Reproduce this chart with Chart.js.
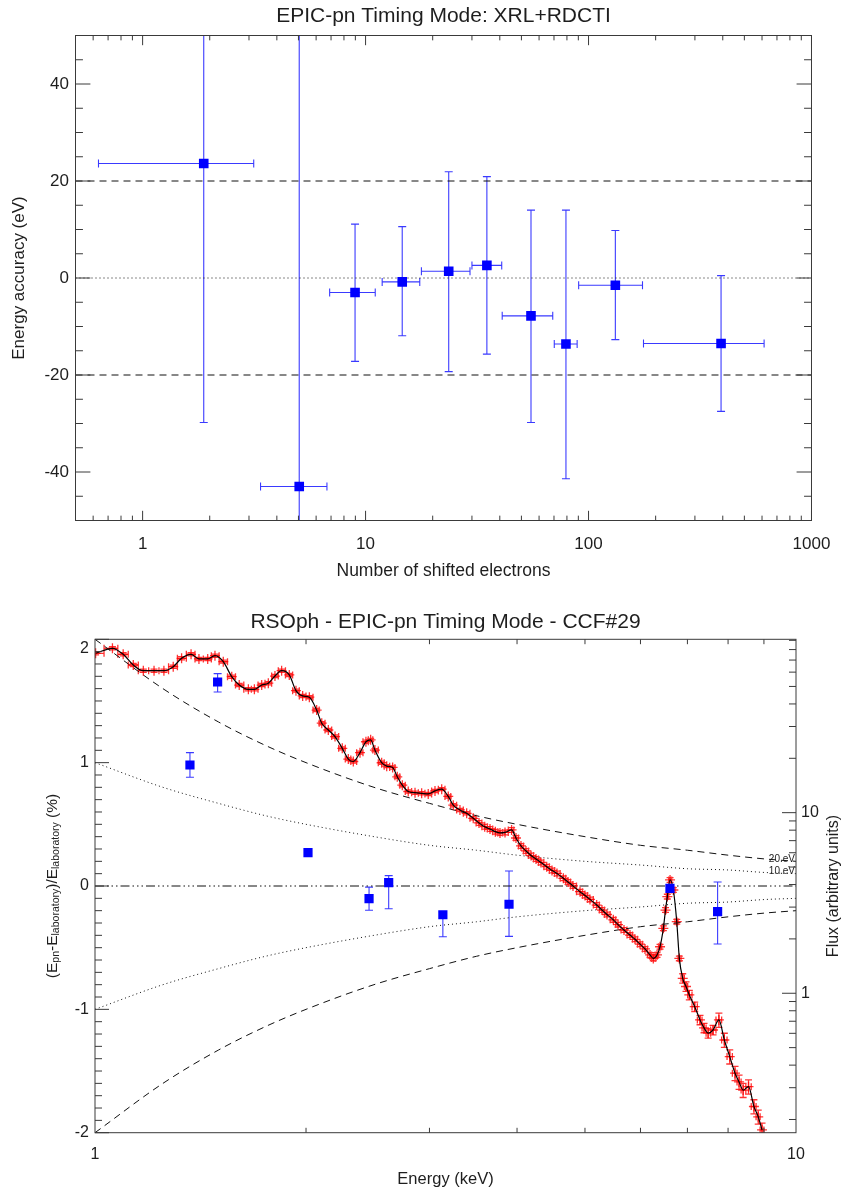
<!DOCTYPE html>
<html>
<head>
<meta charset="utf-8">
<title>EPIC-pn Timing Mode energy scale</title>
<script src="https://cdn.jsdelivr.net/npm/chart.js@4.4.1/dist/chart.umd.min.js"></script>
<style>
  html, body { margin: 0; padding: 0; background: #fff; }
  #wrap { position: relative; width: 844px; height: 1195px; }
  canvas { position: absolute; left: 0; }
  #topChart { top: 0; }
  #bottomChart { top: 595px; }
</style>
</head>
<body>
<div id="wrap">
  <canvas id="topChart" width="844" height="595"></canvas>
  <canvas id="bottomChart" width="844" height="600"></canvas>
</div>
<script>
// ==================== DATA: XRL+RDCTI (top panel) ====================
const electrons     = [1.88, 5.04, 8.97, 14.6, 23.6, 35.0, 55.2, 79.2, 131.9, 393];
const electronsLow  = [0.634, 3.38, 6.90, 11.87, 17.8, 30.0, 41.0, 70.2, 90.3, 176.4];
const electronsHigh = [3.15, 6.71, 11.05, 17.5, 29.4, 40.8, 69.1, 88.9, 174.6, 613];
const accuracy      = [23.6, -43.0, -3.0, -0.8, 1.4, 2.6, -7.8, -13.6, -1.5, -13.5];
const accuracyLow   = [-29.8, -138, -17.2, -11.9, -19.3, -15.7, -29.8, -41.4, -12.7, -27.5];
const accuracyHigh  = [77, 52, 11.1, 10.6, 21.9, 20.9, 14.0, 14.0, 9.8, 0.5];
const electronRange = [0.5, 1000];
const electronTicks = [1, 10, 100, 1000];
const accuracyTicks = [-40, -20, 0, 20, 40];
const accuracyLimit = 20;

// ==================== DATA: RS Oph (bottom panel) ====================
const lineEnergy    = [1.366, 1.496, 2.013, 2.46, 2.624, 3.135, 3.896, 6.61, 7.73];
const lineShift     = [0.981, 1.654, 0.270, -0.103, 0.027, -0.233, -0.148, -0.019, -0.208];
const lineShiftLow  = [0.882, 1.573, 0.245, -0.197, -0.184, -0.411, -0.408, -0.040, -0.470];
const lineShiftHigh = [1.081, 1.722, 0.295, -0.009, 0.084, -0.210, 0.122, 0.000, 0.032];

const curveEnergy = [1, 1.25, 1.5, 1.75, 2, 2.5, 3, 3.5, 4, 5, 6, 7, 8, 9, 10];
const shift20eV   = [2.00, 1.60, 1.33, 1.14, 1.00, 0.80, 0.67, 0.57, 0.50, 0.40, 0.33, 0.29, 0.25, 0.22, 0.20];
const shift10eV   = [1.00, 0.80, 0.67, 0.57, 0.50, 0.40, 0.33, 0.29, 0.25, 0.20, 0.17, 0.14, 0.13, 0.11, 0.10];
const shiftM20eV  = [-2.00, -1.60, -1.33, -1.14, -1.00, -0.80, -0.67, -0.57, -0.50, -0.40, -0.33, -0.29, -0.25, -0.22, -0.20];
const shiftM10eV  = [-1.00, -0.80, -0.67, -0.57, -0.50, -0.40, -0.33, -0.29, -0.25, -0.20, -0.17, -0.14, -0.13, -0.11, -0.10];

const specEnergy = [
  1.002, 1.059, 1.097, 1.134, 1.172, 1.214, 1.254, 1.293, 1.329, 1.371,
  1.407, 1.448, 1.483, 1.524, 1.567, 1.606, 1.655, 1.688, 1.729, 1.767,
  1.806, 1.846, 1.893, 1.935, 1.978, 2.022, 2.071, 2.106, 2.152, 2.200,
  2.253, 2.298, 2.336, 2.388, 2.435, 2.473, 2.508, 2.564, 2.607, 2.658,
  2.699, 2.744, 2.798, 2.861, 2.924, 2.988, 3.055, 3.123, 3.191, 3.244,
  3.316, 3.390, 3.464, 3.530, 3.597, 3.660, 3.725, 3.782, 3.845, 3.929,
  3.986, 4.052, 4.119, 4.188, 4.257, 4.327, 4.409, 4.487, 4.561, 4.657,
  4.729, 4.807, 4.919, 5.000, 5.083, 5.196, 5.287, 5.375, 5.488, 5.573,
  5.684, 5.797, 5.893, 5.991, 6.090, 6.191, 6.258, 6.335, 6.398, 6.468,
  6.514, 6.553, 6.612, 6.684, 6.759, 6.817, 6.893, 6.968, 7.044, 7.170,
  7.296, 7.393, 7.493, 7.615, 7.763, 7.903, 8.044, 8.185, 8.294, 8.406,
  8.556, 8.709, 8.833, 8.944
];
const specFlux = [
  76.3, 81.3, 75.3, 65.7, 61.1, 61.1, 61.1, 64.3, 71.6, 75.3,
  71.0, 71.0, 74.0, 68.6, 56.6, 50.9, 48.2, 48.2, 50.9, 52.1,
  57.1, 61.1, 57.9, 47.4, 44.3, 43.6, 37.0, 31.3, 28.7, 26.4,
  22.7, 19.8, 19.2, 21.5, 24.7, 25.3, 22.2, 18.9, 18.1, 17.8,
  15.8, 14.2, 13.1, 12.9, 12.8, 12.7, 13.2, 13.5, 12.3, 11.0,
  10.35, 9.92, 9.31, 8.77, 8.36, 8.12, 7.85, 7.72, 7.77, 8.02,
  7.24, 6.54, 6.14, 5.79, 5.54, 5.30, 5.02, 4.79, 4.61, 4.33,
  4.13, 3.93, 3.65, 3.48, 3.31, 3.08, 2.89, 2.73, 2.55, 2.40,
  2.24, 2.10, 1.99, 1.87, 1.76, 1.63, 1.56, 1.63, 1.81, 2.29,
  2.89, 3.43, 4.24, 3.73, 2.49, 1.56, 1.21, 1.09, 0.979, 0.843,
  0.712, 0.643, 0.601, 0.626, 0.712, 0.551, 0.446, 0.361, 0.323, 0.291,
  0.304, 0.236, 0.207, 0.175
];
// flux errors in percent
const specFluxErr = [
  2, 2, 2, 2, 2, 2, 2, 2, 2, 2,
  2, 2, 2, 2, 2, 2, 2, 2, 2, 2,
  2, 2, 2, 2, 2, 2, 2, 2, 2, 2,
  2, 2, 2, 2, 2, 2, 2, 2, 2, 2,
  2, 2, 2, 2, 2, 2, 2, 2, 2, 2,
  2, 2, 2, 3, 3, 3, 3, 3, 3, 3,
  3, 3, 3, 3, 3, 3, 3, 3, 3, 3,
  3, 3, 3, 3, 3, 3, 3, 3, 3, 3,
  3, 3, 3, 3, 3, 3, 3, 3, 3, 3,
  3, 3, 3, 3, 3, 3, 6, 6, 6, 6,
  6, 6, 6, 6, 9, 9, 9, 9, 9, 9,
  9, 9, 9, 9
];
const energyRange = [1, 10];
const energyTicks = [1, 10];
const shiftTicks = [-2, -1, 0, 1, 2];
const fluxRange = [0.169, 91.2];
const fluxTicks = [1, 10];

// ==================== STYLE ====================
const FONT = "'Liberation Sans', Arial, Helvetica, sans-serif";
const INK = '#1e1e1e';
const FRAME = '#3a3a3a';

function logMinors(lo, hi) {
  const out = [];
  for (let d = Math.pow(10, Math.floor(Math.log10(lo))); d < hi; d *= 10) {
    for (let k = 2; k <= 9; k++) {
      const v = k * d;
      if (v > lo && v < hi) out.push(v);
    }
  }
  return out;
}
function linMinors(from, to, step, every) {
  const out = [];
  for (let i = from; i <= to; i++) if (i % every) out.push(i * step);
  return out;
}

// ==================== PLUGINS ====================
// frame + inward tick marks (IDL style)
function frameTicks(sides) {
  return {
    id: 'frameTicks',
    afterDraw(chart) {
      const { ctx, chartArea: a } = chart;
      ctx.save();
      ctx.strokeStyle = FRAME;
      ctx.lineWidth = 1;
      ctx.strokeRect(a.left, a.top, a.right - a.left, a.bottom - a.top);
      ctx.beginPath();
      sides.forEach(s => {
        const scale = chart.scales[s.scale];
        s.values.forEach(v => {
          const p = scale.getPixelForValue(v);
          if (s.side === 'bottom') { ctx.moveTo(p, a.bottom); ctx.lineTo(p, a.bottom - s.len); }
          if (s.side === 'top') { ctx.moveTo(p, a.top); ctx.lineTo(p, a.top + s.len); }
          if (s.side === 'left') { ctx.moveTo(a.left, p); ctx.lineTo(a.left + s.len, p); }
          if (s.side === 'right') { ctx.moveTo(a.right, p); ctx.lineTo(a.right - s.len, p); }
        });
      });
      ctx.stroke();
      ctx.restore();
    }
  };
}

// title centred over the plot region
function plotTitle(text, y) {
  return {
    id: 'plotTitle',
    afterDraw(chart) {
      const { ctx, chartArea: a } = chart;
      ctx.save();
      ctx.fillStyle = INK;
      ctx.font = '21px ' + FONT;
      ctx.textAlign = 'center';
      ctx.textBaseline = 'middle';
      ctx.fillText(text, (a.left + a.right) / 2, y);
      ctx.restore();
    }
  };
}

// error bars, drawn through the chart scales
const errorBars = {
  id: 'errorBars',
  beforeDatasetsDraw(chart) {
    const { ctx, chartArea: a } = chart;
    ctx.save();
    ctx.beginPath();
    ctx.rect(a.left, a.top, a.right - a.left, a.bottom - a.top);
    ctx.clip();
    chart.data.datasets.forEach(ds => {
      const eb = ds.errorBars;
      if (!eb) return;
      const xs = chart.scales[ds.xAxisID || 'x'];
      const ys = chart.scales[ds.yAxisID || 'y'];
      const px = ds.data.map(p => xs.getPixelForValue(p.x));
      ctx.strokeStyle = eb.color;
      ctx.lineWidth = eb.lineWidth;
      ctx.beginPath();
      ds.data.forEach((p, i) => {
        const x = px[i];
        const y = ys.getPixelForValue(p.y);
        let x0, x1;
        if (eb.xLow) {
          x0 = xs.getPixelForValue(eb.xLow[i]);
          x1 = xs.getPixelForValue(eb.xHigh[i]);
        } else if (eb.binEdges) {
          const prev = i > 0 ? px[i - 1] : 2 * x - px[i + 1];
          const next = i < px.length - 1 ? px[i + 1] : 2 * x - px[i - 1];
          x0 = (prev + x) / 2;
          x1 = (x + next) / 2;
        }
        if (x0 !== undefined) {
          ctx.moveTo(x0, y); ctx.lineTo(x1, y);
          ctx.moveTo(x0, y - eb.cap); ctx.lineTo(x0, y + eb.cap);
          ctx.moveTo(x1, y - eb.cap); ctx.lineTo(x1, y + eb.cap);
        }
        let lo, hi;
        if (eb.yLow) { lo = eb.yLow[i]; hi = eb.yHigh[i]; }
        else if (eb.yPercent) { lo = p.y * (1 - eb.yPercent[i] / 100); hi = p.y * (1 + eb.yPercent[i] / 100); }
        if (lo !== undefined) {
          const y0 = ys.getPixelForValue(lo);
          const y1 = ys.getPixelForValue(hi);
          ctx.moveTo(x, y0); ctx.lineTo(x, y1);
          ctx.moveTo(x - eb.cap, y0); ctx.lineTo(x + eb.cap, y0);
          ctx.moveTo(x - eb.cap, y1); ctx.lineTo(x + eb.cap, y1);
        }
      });
      ctx.stroke();
    });
    ctx.restore();
  }
};

function drawRotated(ctx, cx, cy, parts) {
  ctx.save();
  ctx.translate(cx, cy);
  ctx.rotate(-Math.PI / 2);
  ctx.textBaseline = 'middle';
  ctx.textAlign = 'left';
  ctx.fillStyle = INK;
  let total = 0;
  parts.forEach(p => { ctx.font = p.size + 'px ' + FONT; p.w = ctx.measureText(p.text).width; total += p.w; });
  let x = -total / 2;
  parts.forEach(p => { ctx.font = p.size + 'px ' + FONT; ctx.fillText(p.text, x, p.dy || 0); x += p.w; });
  ctx.restore();
}

const bottomLabels = {
  id: 'bottomLabels',
  afterDraw(chart) {
    const { ctx, chartArea: a } = chart;
    const ys = chart.scales.y;
    const cy = (a.top + a.bottom) / 2;
    drawRotated(ctx, 52.5, cy, [
      { text: '(E', size: 15.5 }, { text: 'pn', size: 10.5, dy: 4 },
      { text: '-E', size: 15.5 }, { text: 'laboratory', size: 10.5, dy: 4 },
      { text: ')/E', size: 15.5 }, { text: 'laboratory', size: 10.5, dy: 4 },
      { text: ' (%)', size: 15.5 }
    ]);
    drawRotated(ctx, 834, cy, [{ text: 'Flux (arbitrary units)', size: 16 }]);
    ctx.save();
    ctx.fillStyle = INK;
    ctx.font = '10px ' + FONT;
    ctx.textAlign = 'right';
    ctx.textBaseline = 'alphabetic';
    ctx.fillText('20.eV', a.right - 1, ys.getPixelForValue(shift20eV[shift20eV.length - 1]) + 0.5);
    ctx.fillText('10.eV', a.right - 1, ys.getPixelForValue(shift10eV[shift10eV.length - 1]) + 0.5);
    ctx.restore();
  }
};

const pts = (xs, ys) => xs.map((x, i) => ({ x, y: ys[i] }));
const refLine = (xs, ys, dash, axis) => ({
  type: 'line', data: pts(xs, ys), borderColor: '#111', borderWidth: 1,
  borderDash: dash, pointRadius: 0, fill: false, cubicInterpolationMode: 'monotone',
  yAxisID: axis || 'y'
});

// ==================== TOP CHART ====================
new Chart(document.getElementById('topChart'), {
  type: 'scatter',
  data: {
    datasets: [
      {
        data: pts(electrons, accuracy),
        pointStyle: 'rect', pointRadius: 6.8, borderWidth: 0,
        backgroundColor: '#0000ff',
        errorBars: {
          xLow: electronsLow, xHigh: electronsHigh, yLow: accuracyLow, yHigh: accuracyHigh,
          color: '#3a3aff', lineWidth: 1.1, cap: 4
        }
      },
      refLine(electronRange, [accuracyLimit, accuracyLimit], [7, 5]),
      refLine(electronRange, [-accuracyLimit, -accuracyLimit], [7, 5]),
      refLine(electronRange, [0, 0], [1, 3])
    ]
  },
  options: {
    responsive: false,
    animation: false,
    devicePixelRatio: 1,
    layout: { padding: { left: 0, right: 23, top: 35.5, bottom: 0 } },
    plugins: {
      legend: { display: false },
      tooltip: { enabled: false },
      title: { display: false }
    },
    scales: {
      x: {
        type: 'logarithmic', min: electronRange[0], max: electronRange[1],
        afterBuildTicks: s => { s.ticks = electronTicks.map(v => ({ value: v })); },
        afterFit: s => { s.height = 74.5; },
        grid: { display: false, drawTicks: false },
        border: { display: false },
        ticks: { callback: v => String(v), color: INK, font: { family: FONT, size: 17 }, padding: 13.6, maxRotation: 0, autoSkip: false },
        title: { display: true, text: 'Number of shifted electrons', color: INK, font: { family: FONT, size: 17.5 }, padding: { top: 0, bottom: 13.5 } }
      },
      y: {
        type: 'linear', min: -50, max: 50,
        afterBuildTicks: s => { s.ticks = accuracyTicks.map(v => ({ value: v })); },
        afterFit: s => { s.width = 75.5; },
        grid: { display: false, drawTicks: false },
        border: { display: false },
        ticks: { callback: v => String(v), color: INK, font: { family: FONT, size: 17 }, padding: 6.5 },
        title: { display: true, text: 'Energy accuracy (eV)', color: INK, font: { family: FONT, size: 17 }, padding: { top: 9, bottom: 0 } }
      }
    }
  },
  plugins: [errorBars, plotTitle('EPIC-pn Timing Mode: XRL+RDCTI', 15.8), frameTicks([
    { scale: 'x', side: 'bottom', values: electronTicks, len: 9.7 },
    { scale: 'x', side: 'top', values: electronTicks, len: 9.7 },
    { scale: 'x', side: 'bottom', values: logMinors(0.5, 1000), len: 4.85 },
    { scale: 'x', side: 'top', values: logMinors(0.5, 1000), len: 4.85 },
    { scale: 'y', side: 'left', values: accuracyTicks, len: 14.9 },
    { scale: 'y', side: 'right', values: accuracyTicks, len: 14.9 },
    { scale: 'y', side: 'left', values: linMinors(-9, 9, 5, 4), len: 7.45 },
    { scale: 'y', side: 'right', values: linMinors(-9, 9, 5, 4), len: 7.45 }
  ])]
});

// ==================== BOTTOM CHART ====================
new Chart(document.getElementById('bottomChart'), {
  type: 'scatter',
  data: {
    datasets: [
      {
        data: pts(lineEnergy, lineShift),
        pointStyle: 'rect', pointRadius: 6.5, borderWidth: 0,
        backgroundColor: '#0000ff',
        errorBars: { yLow: lineShiftLow, yHigh: lineShiftHigh, color: '#3a3aff', lineWidth: 1.1, cap: 4 }
      },
      {
        type: 'line', data: pts(specEnergy, specFlux), yAxisID: 'flux',
        borderColor: '#000', borderWidth: 1.2, pointRadius: 0, cubicInterpolationMode: 'monotone'
      },
      {
        data: pts(specEnergy, specFlux), yAxisID: 'flux',
        pointStyle: 'cross', pointRadius: 5, borderWidth: 1.3,
        borderColor: 'rgba(255,0,0,0.8)',
        errorBars: { binEdges: true, yPercent: specFluxErr, color: 'rgba(255,0,0,0.8)', lineWidth: 1.3, cap: 3.5 }
      },
      refLine(energyRange, [0, 0], [9, 3, 1.5, 3, 1.5, 3, 1.5, 3]),
      refLine(curveEnergy, shift20eV, [7, 5]),
      refLine(curveEnergy, shiftM20eV, [7, 5]),
      refLine(curveEnergy, shift10eV, [1, 3]),
      refLine(curveEnergy, shiftM10eV, [1, 3])
    ]
  },
  options: {
    responsive: false,
    animation: false,
    devicePixelRatio: 1,
    layout: { padding: { left: 0, right: 0, top: 44.3, bottom: 0 } },
    plugins: {
      legend: { display: false },
      tooltip: { enabled: false },
      title: { display: false }
    },
    scales: {
      x: {
        type: 'logarithmic', min: energyRange[0], max: energyRange[1],
        afterBuildTicks: s => { s.ticks = energyTicks.map(v => ({ value: v })); },
        afterFit: s => { s.height = 62.3; },
        grid: { display: false, drawTicks: false },
        border: { display: false },
        ticks: { callback: v => String(v), color: INK, font: { family: FONT, size: 16 }, padding: 12.4, maxRotation: 0, autoSkip: false },
        title: { display: true, text: 'Energy (keV)', color: INK, font: { family: FONT, size: 16.5 }, padding: { top: 0, bottom: 6 } }
      },
      y: {
        type: 'linear', min: -2, max: 2, position: 'left',
        afterBuildTicks: s => { s.ticks = shiftTicks.map(v => ({ value: v })); },
        afterFit: s => { s.width = 95; },
        grid: { display: false, drawTicks: false },
        border: { display: false },
        // top label sits just below the frame corner, as in the original
        ticks: { callback: v => (v === 2 ? ['', '2'] : String(v)), color: INK, font: { family: FONT, size: 16 }, padding: 6 }
      },
      flux: {
        type: 'logarithmic', min: fluxRange[0], max: fluxRange[1], position: 'right',
        afterBuildTicks: s => { s.ticks = fluxTicks.map(v => ({ value: v })); },
        afterFit: s => { s.width = 48; },
        grid: { display: false, drawTicks: false },
        border: { display: false },
        ticks: { callback: v => String(v), color: INK, font: { family: FONT, size: 16 }, padding: 5 }
      }
    }
  },
  plugins: [errorBars, bottomLabels, plotTitle('RSOph - EPIC-pn Timing Mode - CCF#29', 27.5), frameTicks([
    { scale: 'x', side: 'bottom', values: logMinors(1, 10), len: 4.9 },
    { scale: 'x', side: 'top', values: logMinors(1, 10), len: 4.9 },
    { scale: 'y', side: 'left', values: shiftTicks, len: 14 },
    { scale: 'y', side: 'left', values: linMinors(-19, 19, 0.1, 10), len: 7 },
    { scale: 'flux', side: 'right', values: fluxTicks, len: 14 },
    { scale: 'flux', side: 'right', values: logMinors(0.169, 91.2), len: 7 }
  ])]
});
</script>
</body>
</html>
